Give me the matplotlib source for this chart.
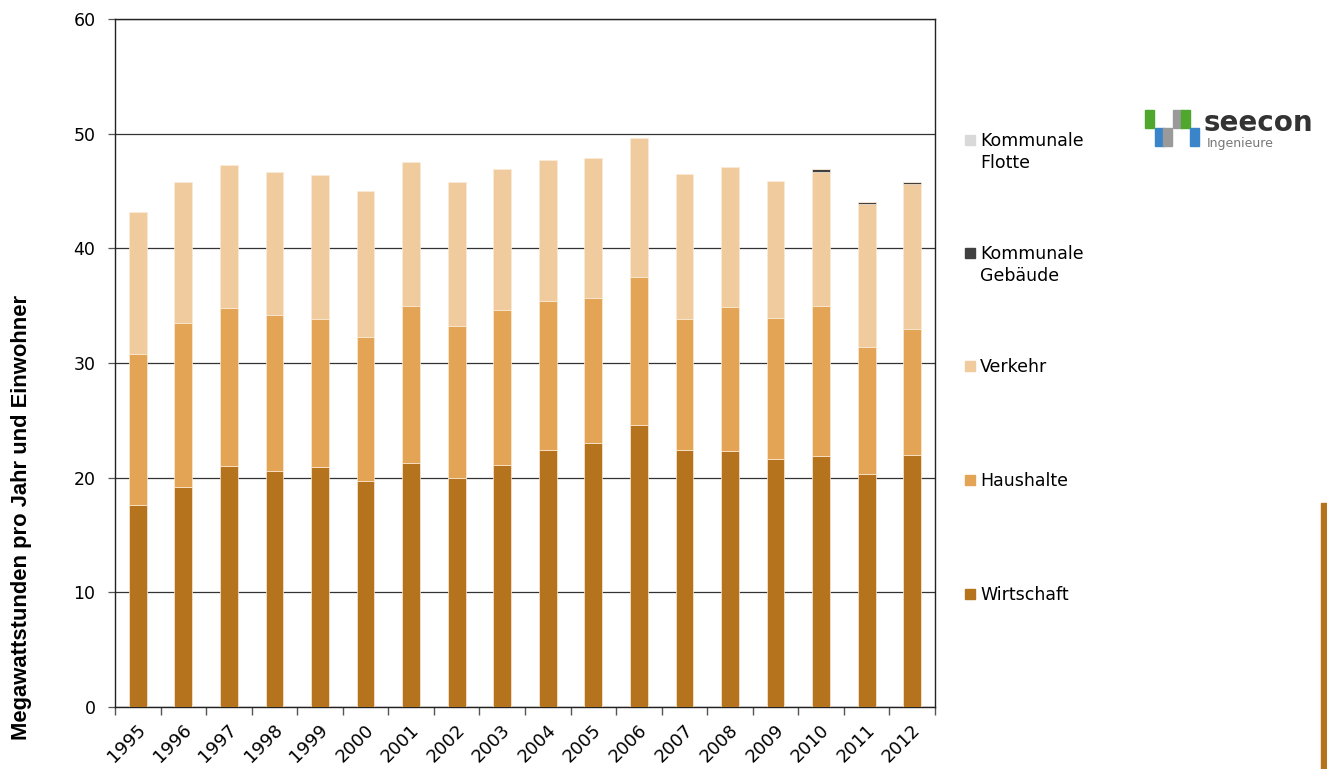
import numpy as np
import matplotlib
matplotlib.use("Agg")
import matplotlib.pyplot as plt
from matplotlib.patches import Rectangle
import matplotlib.transforms as mtransforms

plt.rcParams["font.family"] = ["DejaVu Sans"]

years = [str(y) for y in range(1995, 2013)]
# MWh per year and inhabitant, stacked segments
wirtschaft = [17.6, 19.2, 21.0, 20.6, 20.9, 19.7, 21.3, 20.0, 21.1, 22.4, 23.0, 24.6,
              22.4, 22.3, 21.6, 21.9, 20.3, 22.0]
haushalte = [13.2, 14.3, 13.8, 13.6, 12.9, 12.6, 13.7, 13.2, 13.5, 13.0, 12.7, 12.9,
             11.4, 12.6, 12.3, 13.1, 11.1, 11.0]
verkehr = [12.4, 12.3, 12.5, 12.5, 12.6, 12.7, 12.5, 12.6, 12.3, 12.3, 12.2, 12.1,
           12.7, 12.2, 12.0, 11.7, 12.5, 12.6]
gebaeude = [0, 0, 0, 0, 0, 0, 0, 0, 0, 0, 0, 0, 0, 0, 0, 0.2, 0.18, 0.18]
flotte = [0] * 18

series = [("Wirtschaft", wirtschaft, "#B5731E"),
          ("Haushalte", haushalte, "#E4A456"),
          ("Verkehr", verkehr, "#F0CB9D"),
          ("Kommunale\nGebäude", gebaeude, "#404040"),
          ("Kommunale\nFlotte", flotte, "#D9D9D9")]

W, H = 1327, 769
fig = plt.figure(figsize=(W / 100, H / 100), dpi=100)
ax = fig.add_axes([115 / W, 1 - 707 / H, 820 / W, 688 / H])

x = np.arange(len(years))
bottom = np.zeros(len(years))
for name, vals, col in series:
    v = np.array(vals, dtype=float)
    ax.bar(x, v, bottom=bottom, width=0.39, color=col, edgecolor="#FBEBD6",
           linewidth=0.5, zorder=3)
    bottom += v

ax.set_xlim(-0.5, len(years) - 0.5)
ax.set_ylim(0, 60)
ax.set_yticks(range(0, 61, 10))
ax.yaxis.grid(True, color="#333333", lw=0.9, zorder=0)
ax.tick_params(axis="y", length=5, width=0.9, labelsize=12.5, pad=9, color="#555555")

# category boundaries as major ticks, labels on minor ticks at bar centres
ax.set_xticks(np.arange(-0.5, len(years)), labels=[])
ax.set_xticks(x, labels=years, minor=True)
ax.tick_params(axis="x", which="major", length=6, width=1, color="#555555")
ax.tick_params(axis="x", which="minor", length=0, labelsize=13, pad=10)
off = mtransforms.ScaledTranslation(-1 / 100, 0, fig.dpi_scale_trans)
for lab in ax.get_xticklabels(minor=True):
    lab.set_rotation(45)
    lab.set_ha("right")
    lab.set_rotation_mode("anchor")
    lab.set_transform(lab.get_transform() + off)

for s in ax.spines.values():
    s.set_color("#222222")
    s.set_linewidth(1)

fig.text(22 / W, 1 - 517 / H, "Megawattstunden pro Jahr und Einwohner", rotation=90,
         ha="center", va="center", fontsize=15.8, fontweight="bold",
         family=["Liberation Sans"])

# legend, drawn by hand so the marker sits on the first text line
leg_y = [594, 480, 366, 253, 140]
for (name, vals, col), yy in zip(series, leg_y):
    fig.patches.append(Rectangle((965 / W, 1 - (yy + 5) / H), 10 / W, 10 / H,
                                 transform=fig.transFigure, color=col))
    fig.text(980 / W, 1 - (yy - 8) / H, name, ha="left", va="top", fontsize=12.5,
             linespacing=1.3)

# seecon logo
blocks = [(1145, 110, "#4FA82D"), (1173, 110, "#9A9A9A"), (1181, 110, "#4FA82D"),
          (1155, 128, "#3A84C9"), (1163, 128, "#9A9A9A"), (1190, 128, "#3A84C9")]
for bx, by, bc in blocks:
    fig.patches.append(Rectangle((bx / W, 1 - (by + 18) / H), 8.5 / W, 18 / H,
                                 transform=fig.transFigure, color=bc))
fig.text(1204 / W, 1 - 131 / H, "seecon", ha="left", va="baseline", fontsize=20,
         fontweight="bold", color="#333333")
fig.text(1207 / W, 1 - 147 / H, "Ingenieure", ha="left", va="baseline", fontsize=9,
         color="#777777")

# brown strip at right edge
fig.patches.append(Rectangle((1321 / W, 0), 6 / W, (H - 503) / H,
                             transform=fig.transFigure, color="#B5731E"))

fig.savefig("out.png", dpi=100)
